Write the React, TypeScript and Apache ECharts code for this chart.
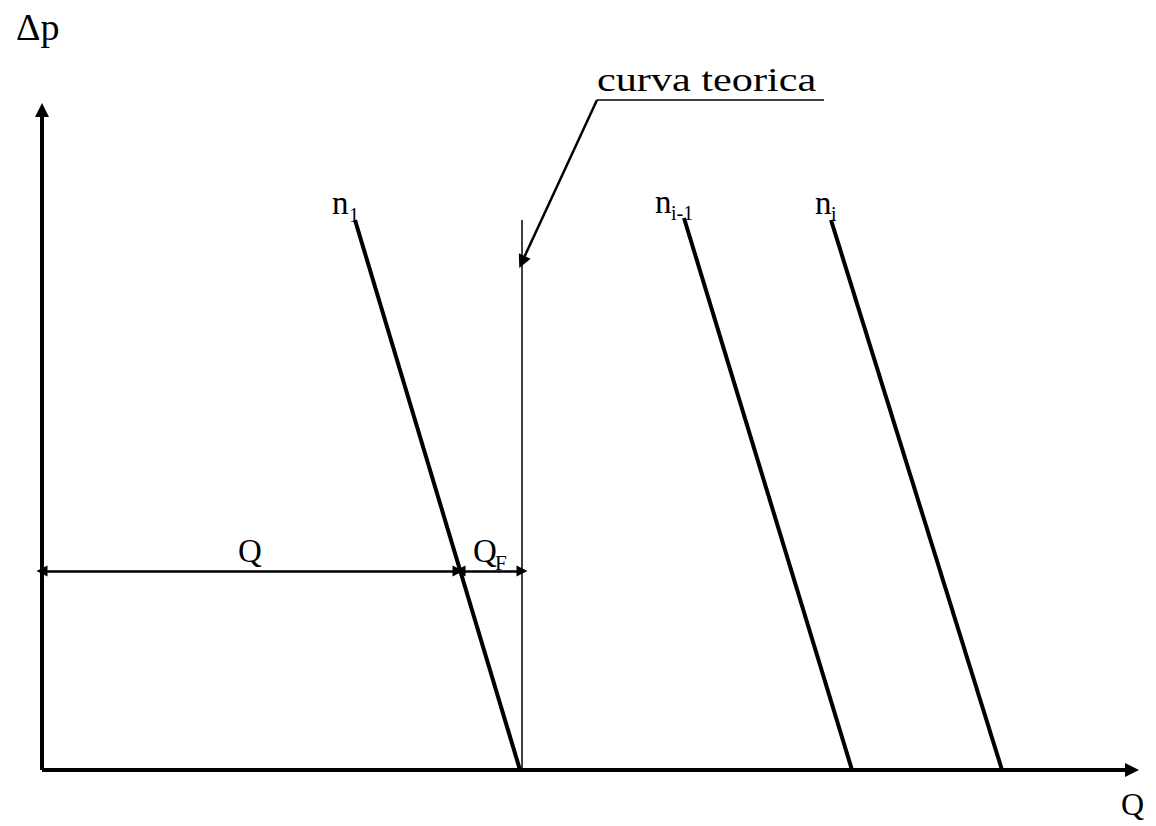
import React, { useEffect, useRef } from "react";
import * as echarts from "echarts";

// Coordinates in diagram units: x = flow Q, y = pressure difference Δp (origin at axes crossing)
const curveN1: [number, number][] = [[313, 550], [478, 0]];
const curveNiMinus1: [number, number][] = [[642, 552], [810, 0]];
const curveNi: [number, number][] = [[789, 550], [960, 0]];
const theoreticalCurve: [number, number][] = [[480, 550], [480, 0]];
const leaderLine: [number, number][] = [[555, 670], [480, 508]];
const leaderUnderline: [number, number][] = [[555, 670], [782, 670]];
const dimQ: [number, number][] = [[0, 199], [416, 199]];
const dimQF: [number, number][] = [[418, 199], [480, 199]];
const xAxisExtent: [number, number][] = [[0, 0], [1090, 0]];
const yAxisExtent: [number, number][] = [[0, 0], [0, 660]];

const FONT = "'Liberation Serif', 'Times New Roman', serif";
const INK = "#000";

function seg(points: [number, number][]) {
  return [{ coord: points[0] }, { coord: points[1] }];
}

export default function App() {
  const ref = useRef<HTMLDivElement>(null);
  useEffect(() => {
    if (!ref.current) return;
    const chart = echarts.init(ref.current, undefined, { renderer: "svg" });
    const lineSeries = (name: string, data: [number, number][], width: number) => ({
      name,
      type: "line",
      data,
      symbol: "none",
      silent: true,
      clip: false,
      lineStyle: { color: INK, width, cap: "butt" },
    });
    const markSeries = (
      name: string,
      segs: [number, number][][],
      symbol: string[],
      size: number,
      width: number
    ) => ({
      name,
      type: "line",
      data: [],
      silent: true,
      clip: false,
      markLine: {
        silent: true,
        animation: false,
        symbol,
        symbolSize: size,
        label: { show: false },
        lineStyle: { color: INK, width, type: "solid" },
        emphasis: { disabled: true },
        data: segs.map(seg),
      },
    });
    chart.setOption({
      animation: false,
      grid: { left: 42, right: 0, top: 0, bottom: 56 },
      xAxis: { type: "value", min: 0, max: 1114, show: false },
      yAxis: { type: "value", min: 0, max: 770, show: false },
      series: [
        markSeries("axes", [xAxisExtent, yAxisExtent], ["none", "triangle"], 14, 4),
        lineSeries("n1", curveN1, 4),
        lineSeries("ni-1", curveNiMinus1, 4),
        lineSeries("ni", curveNi, 4),
        lineSeries("curva teorica", theoreticalCurve, 1.5),
        lineSeries("underline", leaderUnderline, 1.5),
        markSeries("leader", [leaderLine], ["none", "triangle"], 13, 2.5),
        markSeries("dims", [dimQ, dimQF], ["triangle", "triangle"], 11, 2.5),
      ],
      graphic: [
        { type: "text", x: 16, y: 46, style: { text: "Δp", font: `38px ${FONT}`, fill: INK, verticalAlign: "bottom" } },
        { type: "text", x: 597, y: 96, scaleX: 1.28, style: { text: "curva teorica", font: `33px ${FONT}`, fill: INK, verticalAlign: "bottom" } },
        { type: "text", x: 332, y: 219, style: { text: "n", font: `33px ${FONT}`, fill: INK, verticalAlign: "bottom" } },
        { type: "text", x: 349, y: 225, style: { text: "1", font: `20px ${FONT}`, fill: INK, verticalAlign: "bottom" } },
        { type: "text", x: 655, y: 218, style: { text: "n", font: `33px ${FONT}`, fill: INK, verticalAlign: "bottom" } },
        { type: "text", x: 671, y: 223, style: { text: "i-1", font: `20px ${FONT}`, fill: INK, verticalAlign: "bottom" } },
        { type: "text", x: 815, y: 219, style: { text: "n", font: `33px ${FONT}`, fill: INK, verticalAlign: "bottom" } },
        { type: "text", x: 831, y: 224, style: { text: "i", font: `20px ${FONT}`, fill: INK, verticalAlign: "bottom" } },
        { type: "text", x: 238, y: 567, style: { text: "Q", font: `33px ${FONT}`, fill: INK, verticalAlign: "bottom" } },
        { type: "text", x: 473, y: 567, style: { text: "Q", font: `33px ${FONT}`, fill: INK, verticalAlign: "bottom" } },
        { type: "text", x: 495, y: 573, style: { text: "F", font: `21px ${FONT}`, fill: INK, verticalAlign: "bottom" } },
        { type: "text", x: 1121, y: 820, style: { text: "Q", font: `32px ${FONT}`, fill: INK, verticalAlign: "bottom" } },
      ],
    });
    return () => chart.dispose();
  }, []);
  return (
    <div
      ref={ref}
      style={{ position: "absolute", left: 0, top: 0, width: 1156, height: 826, background: "#fff" }}
    />
  );
}
